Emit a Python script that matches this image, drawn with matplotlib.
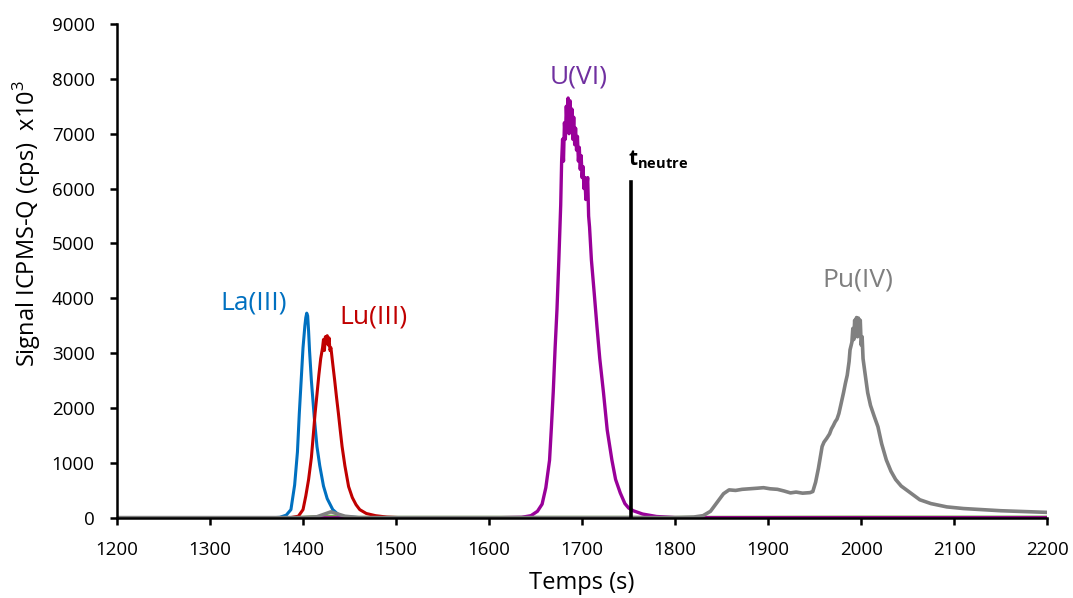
import matplotlib
matplotlib.use("Agg")
import matplotlib.pyplot as plt

plt.rcParams['font.family'] = ['Open Sans', 'DejaVu Sans']
plt.rcParams['mathtext.fontset'] = 'custom'
plt.rcParams['mathtext.rm'] = 'Open Sans'
plt.rcParams['mathtext.bf'] = 'Open Sans:bold'

# La(III) trace
la_t = [1200, 1365, 1375, 1382, 1387, 1391, 1394, 1396, 1398, 1400, 1402, 1403, 1404, 1405,
        1406, 1407, 1409, 1412, 1415, 1418, 1422, 1426, 1432, 1438, 1445, 1460, 1600, 2200]
la_s = [0, 0, 10, 50, 150, 600, 1200, 1900, 2500, 3100, 3500, 3650, 3730, 3680,
        3400, 3050, 2500, 1850, 1300, 950, 580, 350, 150, 60, 20, 5, 5, 5]

# Lu(III) trace
lu_t = [1200, 1385, 1395, 1400, 1403, 1406, 1409, 1411, 1413, 1415, 1417, 1419, 1421, 1422,
        1423, 1424, 1425, 1426, 1427, 1428, 1429, 1430, 1432, 1434, 1436, 1438, 1440, 1442,
        1445, 1449, 1453, 1457, 1461, 1468, 1478, 1490, 1510, 2200]
lu_s = [0, 0, 30, 150, 400, 700, 1100, 1500, 1910, 2250, 2600, 2900, 3100, 3250,
        3050, 3300, 3200, 3320, 3150, 3280, 3050, 3100, 2800, 2510, 2200, 1910, 1600, 1300,
        950, 570, 370, 240, 150, 80, 40, 15, 0, 0]

# U(VI) trace
u_t = [1200, 1600, 1635, 1645, 1652, 1657, 1661, 1665, 1667, 1669, 1671, 1673, 1675, 1677,
       1678, 1679, 1680, 1681, 1682, 1683, 1684, 1685, 1686, 1687, 1688, 1689, 1690, 1691,
       1692, 1693, 1694, 1695, 1696, 1697, 1698, 1699, 1700, 1701, 1702, 1703, 1704, 1705,
       1706, 1707, 1708, 1710, 1713, 1716, 1719, 1723, 1727, 1732, 1736, 1741, 1746, 1750,
       1755, 1765, 1780, 1800, 1820, 2200]
u_s = [0, 0, 10, 40, 120, 250, 550, 1050, 1650, 2300, 3100, 3800, 4700, 5700,
       6500, 6900, 6500, 7200, 6900, 7500, 7100, 7650, 7000, 7600, 7100, 7450, 6900, 7300,
       6800, 7100, 6700, 6950, 6500, 6750, 6350, 6600, 6200, 6400, 6000, 6200, 5800, 6000,
       6200, 5500, 5300, 4700, 4100, 3480, 2900, 2280, 1600, 1056, 700, 455, 260, 180,
       130, 70, 25, 5, 0, 0]

# Pu(IV) trace
pu_t = [1200, 1400, 1415, 1430, 1445, 1460, 1800, 1820, 1830, 1838, 1845, 1852, 1858, 1865,
        1872, 1880, 1888, 1895, 1902, 1910, 1917, 1924, 1930, 1937, 1945, 1948, 1951, 1954,
        1956, 1958, 1960, 1963, 1966, 1968, 1970, 1972, 1974, 1976, 1978, 1981, 1983, 1985,
        1987, 1988, 1990, 1991, 1992, 1993, 1994, 1995, 1996, 1997, 1998, 1999, 2000, 2001,
        2002, 2004, 2007, 2010, 2014, 2018, 2022, 2027, 2032, 2037, 2043, 2053, 2063, 2075,
        2092, 2110, 2130, 2150, 2175, 2200]
pu_s = [5, 5, 20, 110, 30, 5, 5, 15, 40, 120, 280, 440, 510, 500,
        520, 530, 540, 550, 530, 520, 490, 455, 470, 450, 460, 480, 650, 900,
        1100, 1300, 1380, 1450, 1530, 1620, 1680, 1750, 1800, 1900, 2050, 2280, 2450, 2600,
        2850, 3060, 3200, 3450, 3250, 3600, 3350, 3650, 3300, 3640, 3350, 3600, 3150, 3300,
        2900, 2650, 2280, 2050, 1850, 1660, 1350, 1056, 850, 700, 580, 455, 330, 260,
        200, 170, 150, 130, 115, 100]

# small baseline trace
green_t = [1380, 1430, 1450, 1600, 1800, 2000, 2200]
green_s = [0, 30, 10, 10, 10, 15, 15]

t_neutre = 1753
t_neutre_top = 6120

fig, ax = plt.subplots(figsize=(10.73, 5.98), dpi=100)
fig.subplots_adjust(left=0.109, right=0.976, bottom=0.134, top=0.960)

ax.plot(green_t, green_s, color='#70AD47', lw=2.2)
ax.plot(la_t, la_s, color='#0070C0', lw=2.2)
ax.plot(lu_t, lu_s, color='#C00000', lw=2.2)
ax.plot(u_t, u_s, color='#990099', lw=2.4)
ax.plot(pu_t, pu_s, color='#808080', lw=2.6)
ax.plot([t_neutre, t_neutre], [0, t_neutre_top], color='black', lw=2.6)

ax.text(1347, 3916, 'La(III)', color='#0070C0', fontsize=19, ha='center', va='center')
ax.text(1476, 3660, 'Lu(III)', color='#C00000', fontsize=19, ha='center', va='center')
ax.text(1696, 8030, 'U(VI)', color='#7030A0', fontsize=19, ha='center', va='center')
ax.text(1996, 4335, 'Pu(IV)', color='#7F7F7F', fontsize=19, ha='center', va='center')
ax.text(1749, 6520, r'$\mathbf{t}_{\mathbf{neutre}}$', color='black', fontsize=15,
        ha='left', va='center')

ax.set_xlim(1200, 2200)
ax.set_ylim(0, 9000)
ax.set_xticks(range(1200, 2201, 100))
ax.set_yticks(range(0, 9001, 1000))
ax.spines['top'].set_visible(False)
ax.spines['right'].set_visible(False)
ax.spines['left'].set_linewidth(1.8)
ax.spines['bottom'].set_linewidth(1.8)
ax.tick_params(axis='both', direction='out', length=5, width=1.8, labelsize=13.5, colors='black')
ax.tick_params(axis='x', pad=12)
ax.tick_params(axis='y', pad=11)
ax.set_xlabel('Temps (s)', fontsize=17)
ax.set_ylabel(r'Signal ICPMS-Q (cps)  x10$^3$', fontsize=17)
ax.xaxis.set_label_coords(0.5, -0.108)
ax.yaxis.set_label_coords(-0.08, 0.595)

fig.savefig('out.png', dpi=100)
